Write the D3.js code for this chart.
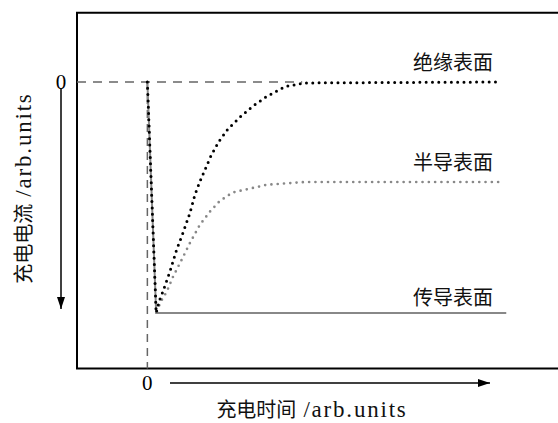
<!DOCTYPE html>
<html><head><meta charset="utf-8">
<script src="https://cdn.jsdelivr.net/npm/d3@7"></script>
<style>
html,body{margin:0;padding:0;background:#fff;}
svg{display:block;}
.cjk{font-family:"Noto Sans CJK SC","Noto Sans",sans-serif;}
.num{font-family:"Liberation Serif","DejaVu Serif",serif;}
</style></head>
<body>
<svg id="chart" width="558" height="423"></svg>
<script>
// ---- data (time in arb. units, current in arb. units; negative = downward) ----
const insulatingT = [0, 0.25, 0.33, 0.44, 0.64, 0.83, 1.01, 1.21, 1.35, 1.49, 1.58, 1.81, 2.03, 2.29, 2.65, 3.0, 3.39, 3.91, 4.48, 10];
const insulatingV = [0, -1, -0.951, -0.908, -0.821, -0.727, -0.654, -0.567, -0.489, -0.432, -0.400, -0.319, -0.258, -0.203, -0.150, -0.104, -0.063, -0.020, -0.004, 0];
const semiT = [0, 0.25, 0.38, 0.55, 0.73, 0.97, 1.21, 1.49, 1.78, 2.06, 2.43, 2.91, 3.39, 4.48, 10];
const semiV = [0, -1, -0.951, -0.908, -0.843, -0.771, -0.697, -0.619, -0.561, -0.515, -0.478, -0.462, -0.445, -0.433, -0.433];
const conductT = [0, 0.25, 10.2];
const conductV = [0, -1, -1];
const seriesLabels = ["绝缘表面", "半导表面", "传导表面"];
const labelValues = [0.085, -0.345, -0.93];
const xTickLabels = ["0"];
const yTickLabels = ["0"];
const xTitle = "充电时间 /arb.units";
const yTitle = "充电电流 /arb.units";

const svg = d3.select("#chart");
const x = d3.scaleLinear().domain([-2, 11.5]).range([77, 552]);
const y = d3.scaleLinear().domain([0.3, -1.24]).range([12.7, 368.4]);

const line = d3.line().x(d => x(d[0])).y(d => y(d[1]));
const zip = (a, b) => a.map((v, i) => [v, b[i]]);

// defs arrow
const defs = svg.append("defs");
defs.append("marker").attr("id", "arr").attr("viewBox", "0 0 12 8")
  .attr("refX", 12).attr("refY", 4).attr("markerWidth", 12).attr("markerHeight", 8)
  .attr("markerUnits", "userSpaceOnUse").attr("orient", "auto")
  .append("path").attr("d", "M0,0 L12,4 L0,8 Z").attr("fill", "#000");

// frame (right side clipped beyond window)
svg.append("path")
  .attr("d", `M570,${y(0.3)} H${x(-2)} V${y(-1.24)} H570`)
  .attr("fill", "none").attr("stroke", "#000").attr("stroke-width", 2);

// reference dashed lines
svg.append("line").attr("x1", x(-2)).attr("x2", x(4.4)).attr("y1", y(0)).attr("y2", y(0))
  .attr("stroke", "#666").attr("stroke-width", 1.5).attr("stroke-dasharray", "9,7");
svg.append("line").attr("x1", x(0)).attr("x2", x(0)).attr("y1", y(0)).attr("y2", y(-1.24))
  .attr("stroke", "#666").attr("stroke-width", 1.5).attr("stroke-dasharray", "8,6");

// conducting surface (solid gray)
svg.append("path").datum(zip(conductT, conductV)).attr("d", line)
  .attr("fill", "none").attr("stroke", "#888").attr("stroke-width", 2);
// semiconducting (gray dots)
svg.append("path").datum(zip(semiT, semiV)).attr("d", line)
  .attr("fill", "none").attr("stroke", "#888").attr("stroke-width", 2.7)
  .attr("stroke-linecap", "round").attr("stroke-dasharray", "0,6.3");
// insulating (black dots)
svg.append("path").datum(zip(insulatingT, insulatingV)).attr("d", line)
  .attr("fill", "none").attr("stroke", "#000").attr("stroke-width", 3)
  .attr("stroke-linecap", "round").attr("stroke-dasharray", "0,6.3");

// series labels
svg.selectAll("text.lab").data(seriesLabels).enter().append("text")
  .attr("class", "cjk lab").attr("x", 493).attr("y", (d, i) => y(labelValues[i]) + 8)
  .attr("text-anchor", "end")
  .attr("font-size", 20).attr("fill", "#111").text(d => d);

// axis tick labels
svg.append("text").attr("class", "num").attr("x", 61).attr("y", y(0) + 7).attr("text-anchor", "middle")
  .attr("font-size", 21).text(yTickLabels[0]);
svg.append("text").attr("class", "num").attr("x", x(0)).attr("y", 390).attr("text-anchor", "middle")
  .attr("font-size", 21).text(xTickLabels[0]);

// axis arrows
svg.append("line").attr("x1", 61).attr("x2", 61).attr("y1", 89).attr("y2", 309)
  .attr("stroke", "#000").attr("stroke-width", 1.5).attr("marker-end", "url(#arr)");
svg.append("line").attr("x1", 170).attr("x2", 490).attr("y1", 383).attr("y2", 383)
  .attr("stroke", "#000").attr("stroke-width", 1.5).attr("marker-end", "url(#arr)");

// titles
function title(sel, txt) {
  const parts = txt.split(" ");
  sel.append("tspan").attr("class", "cjk").attr("font-size", 20).text(parts[0]);
  sel.append("tspan").attr("class", "num").attr("font-size", 23).attr("dx", 7)
    .attr("letter-spacing", 1.8).text(parts[1]);
}
const xt = svg.append("text").attr("x", 312).attr("y", 417).attr("text-anchor", "middle")
  .attr("fill", "#111");
title(xt, xTitle);
const yt = svg.append("text").attr("transform", "translate(31,188) rotate(-90)")
  .attr("text-anchor", "middle").attr("fill", "#111");
title(yt, yTitle);
</script>
</body></html>
